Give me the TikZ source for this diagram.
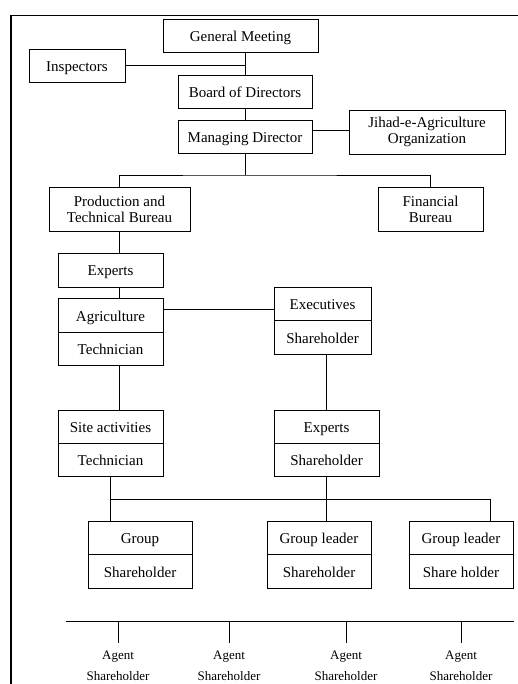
\documentclass[tikz,border=0pt]{standalone}
\usepackage{fontspec}
\setmainfont{Liberation Serif}
\usepackage{tikz}
\usetikzlibrary{positioning}

\begin{document}
\begin{tikzpicture}[x=1pt,y=-1pt,
		box/.style={draw, line width=0.8pt, minimum width=#1, minimum height=33pt, inner sep=0pt, text height=14pt, text depth=2pt, font=\fontsize{15}{16}\selectfont},
		box/.default=105pt,
		twobox/.style={draw, line width=0.8pt, minimum width=#1, minimum height=44pt, inner sep=0pt, align=center, font=\fontsize{15}{16}\selectfont},
		agent/.style={anchor=north, inner sep=0pt, align=center, font=\fontsize{13}{21}\selectfont},
		line width=0.8pt]
		\useasboundingbox (0,0) rectangle (518,684);
		% frame
		\draw[line width=1.6pt] (518,15.5) -- (11,15.5) -- (11,684);

		% top of the chart
		\node[box=155pt] (gm) at (240.5,35.5) {General Meeting};
		\node[box=96pt] (insp) at (77,65.5) {Inspectors};
		\node[box=134pt] (bod) at (245,91.5) {Board of Directors};
		\node[box=134pt] (md) at (245,136.5) {Managing Director};
		\node[twobox=156pt] (jihad) at (427,132) {Jihad-e-Agriculture\\Organization};
		\node[twobox=141pt] (prod) at (119.5,209) {Production and\\Technical Bureau};
		\node[twobox=105pt] (fin) at (430.5,209) {Financial\\Bureau};

		\draw (bod.north) -- (bod.north |- gm.south);
		\draw (insp.east) -- (insp.east -| bod.north);
		\draw (bod.south) -- (md.north);
		\draw ([yshift=6.5pt]md.east) -- ([yshift=6.5pt]md.east -| jihad.west);
		\coordinate (busA) at (245,175);
		\draw (md.south) -- (busA);
		\draw (prod.north) |- (busA) -| (fin.north);

		% technical side
		\node[box, minimum height=34pt] (exp) at (110.5,270) {Experts};
		\node[box, minimum height=34pt] (agri) at (110.5,315) {Agriculture};
		\node[box] (agrit) at (110.5,348.5) {Technician};
		\node[box=97pt] (exec) at (322.5,303.5) {Executives};
		\node[box=97pt, minimum height=34pt] (execs) at (322.5,337) {Shareholder};
		\node[box] (site) at (110.5,426.5) {Site activities};
		\node[box] (sitet) at (110.5,459.5) {Technician};
		\node[box] (exp2) at (326.5,426.5) {Experts};
		\node[box] (exp2s) at (326.5,459.5) {Shareholder};

		\draw (prod.south) -- (prod.south |- exp.north);
		\draw (prod.south |- exp.south) -- (prod.south |- agri.north);
		\draw ([yshift=6pt]agri.east) -- ([yshift=6pt]agri.east -| exec.west);
		\draw (prod.south |- agrit.south) -- (prod.south |- site.north);
		\draw (exp2.north) -- (exp2.north |- execs.south);

		% groups
		\node[box=104pt] (grp) at (140,537.5) {Group};
		\node[box=104pt, minimum height=34pt] (grps) at (140,571) {Shareholder};
		\node[box=104pt] (gl1) at (319,537.5) {Group leader};
		\node[box=104pt, minimum height=34pt] (gl1s) at (319,571) {Shareholder};
		\node[box=104pt] (gl2) at (461,537.5) {Group leader};
		\node[box=104pt, minimum height=34pt] (gl2s) at (461,571) {Share holder};

		\coordinate (busB) at (110.5,499);
		\coordinate (busBr) at (490,499);
		\draw (sitet.south) -- (busB) -- (busBr) -- (busBr |- gl2.north);
		\draw (busB) -- (busB |- grp.north);
		\draw (exp2s.south) -- (exp2s.south |- gl1.north);

		% agents
		\coordinate (busC) at (66,621);
		\draw (busC) -- (514,621);
		\foreach \x [count=\i] in {118,229,346,461} {
			\draw (\x,621) coordinate (t\i) -- (\x,643);
			\node[agent] (ag\i) at (\x,650.5) {Agent\\Shareholder};
		}
	\end{tikzpicture}
\end{document}
